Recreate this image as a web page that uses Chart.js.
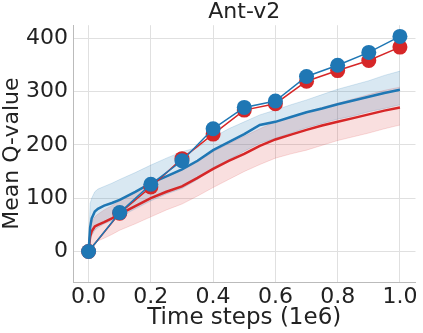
<!DOCTYPE html>
<html>
<head>
<meta charset="utf-8">
<script src="https://cdn.jsdelivr.net/npm/chart.js@4/dist/chart.umd.min.js"></script>
<style>
  html, body { margin: 0; padding: 0; background: #fff; }
  #wrap { width: 423px; height: 333px; }
</style>
</head>
<body>
<div id="wrap"><canvas id="chart" width="423" height="333"></canvas></div>
<script>
// evaluation points (markers)
const steps = [0, 0.1, 0.2, 0.3, 0.4, 0.5, 0.6, 0.7, 0.8, 0.9, 1.0];
const redQ = [0, 72, 121, 174, 220, 265, 277, 319, 339, 358, 383];
const blueQ = [0, 73, 126, 170, 230, 270, 282, 328, 349, 373, 403];

// training curves (mean with band)
const curveX = [0, 0.005, 0.01, 0.02, 0.03, 0.05, 0.075, 0.1, 0.15, 0.2, 0.25, 0.3, 0.35, 0.4, 0.45, 0.5, 0.55, 0.6, 0.65, 0.7, 0.75, 0.8, 0.85, 0.9, 0.95, 1.0];
const blueMean = [0, 45, 62, 75, 80, 86, 91, 97, 112, 128, 141, 154, 170, 190, 205, 220, 237, 243, 252, 261, 268, 276, 283, 290, 297, 303];
const blueUpper = [0, 90, 100, 112, 117, 122, 128, 135, 148, 162, 175, 187, 195, 214, 230, 243, 256, 265, 275, 284, 294, 304, 312, 320, 330, 338];
const blueLower = [0, 20, 30, 40, 45, 52, 58, 65, 80, 95, 108, 118, 135, 157, 172, 188, 203, 212, 222, 232, 240, 248, 254, 262, 268, 275];
const redMean = [0, 28, 38, 47, 50, 55, 62, 70, 85, 100, 112, 122, 138, 155, 170, 183, 198, 210, 219, 228, 236, 243, 250, 257, 264, 270];
const redUpper = [0, 45, 55, 65, 70, 78, 86, 95, 110, 128, 140, 152, 168, 187, 202, 216, 230, 243, 252, 262, 270, 278, 286, 294, 302, 308];
const redLower = [0, 8, 12, 16, 20, 25, 32, 40, 52, 65, 78, 89, 104, 120, 135, 150, 163, 175, 183, 190, 199, 208, 215, 222, 230, 237];

const yTicks = [0, 100, 200, 300, 400];
const xTicks = [0, 0.2, 0.4, 0.6, 0.8, 1.0];

const RED = '#d62728';
const BLUE = '#1f77b4';
const FONT = 'DejaVu Sans';
const SIZE = 22;

const pts = (xs, ys) => xs.map((x, i) => ({ x, y: ys[i] }));

const bandLine = (data, color, fill, order) => ({
  data, borderColor: color, borderWidth: 1, backgroundColor: color,
  pointRadius: 0, fill, order, tension: 0,
});

new Chart(document.getElementById('chart'), {
  type: 'line',
  data: {
    datasets: [
      bandLine(pts(curveX, redUpper), 'rgba(214,39,40,0.15)', '+1', 10),
      bandLine(pts(curveX, redLower), 'rgba(214,39,40,0.15)', false, 10),
      bandLine(pts(curveX, blueUpper), 'rgba(31,119,180,0.17)', '+1', 9),
      bandLine(pts(curveX, blueLower), 'rgba(31,119,180,0.17)', false, 9),
      { data: pts(curveX, redMean), borderColor: RED, borderWidth: 2.5, pointRadius: 0, fill: false, order: 8 },
      { data: pts(curveX, blueMean), borderColor: BLUE, borderWidth: 2.5, pointRadius: 0, fill: false, order: 7 },
      { data: pts(steps, redQ), borderColor: RED, backgroundColor: RED, borderWidth: 1.5,
        pointRadius: 7.5, pointBorderWidth: 0, fill: false, order: 6 },
      { data: pts(steps, blueQ), borderColor: BLUE, backgroundColor: BLUE, borderWidth: 1.5,
        pointRadius: 7.5, pointBorderWidth: 0, fill: false, order: 5 },
    ],
  },
  options: {
    responsive: false,
    animation: false,
    devicePixelRatio: 1,
    layout: { padding: { left: 0, right: 5, top: 0, bottom: 2 } },
    plugins: {
      legend: { display: false },
      tooltip: { enabled: false },
      title: {
        display: true, text: 'Ant-v2', color: '#222', fullSize: false,
        font: { family: FONT, size: SIZE, weight: 'normal', lineHeight: 1.1 },
        padding: { top: 0, bottom: 1 },
      },
    },
    scales: {
      x: {
        type: 'linear', min: -0.05, max: 1.05,
        afterBuildTicks: (s) => { s.ticks = xTicks.map((v) => ({ value: v })); },
        afterFit: (s) => { s.height = 49; },
        ticks: { color: '#222', font: { family: FONT, size: SIZE, lineHeight: 1.1 }, padding: 3, callback: (v) => v.toFixed(1) },
        grid: { color: '#e0e0e0', drawTicks: false },
        border: { color: '#bbb', width: 1 },
        title: { display: true, text: 'Time steps (1e6)', color: '#222', font: { family: FONT, size: 23, lineHeight: 1.1 }, padding: 0 },
      },
      y: {
        min: -57, max: 424,
        afterBuildTicks: (s) => { s.ticks = yTicks.map((v) => ({ value: v })); },
        afterFit: (s) => { s.width = 73; },
        ticks: { color: '#222', font: { family: FONT, size: SIZE }, padding: 5 },
        grid: { color: '#e0e0e0', drawTicks: false },
        border: { color: '#bbb', width: 1 },
        title: { display: true, text: 'Mean Q-value', color: '#222', font: { family: FONT, size: SIZE, lineHeight: 1.1 }, padding: 0 },
      },
    },
  },
});
</script>
</body>
</html>
